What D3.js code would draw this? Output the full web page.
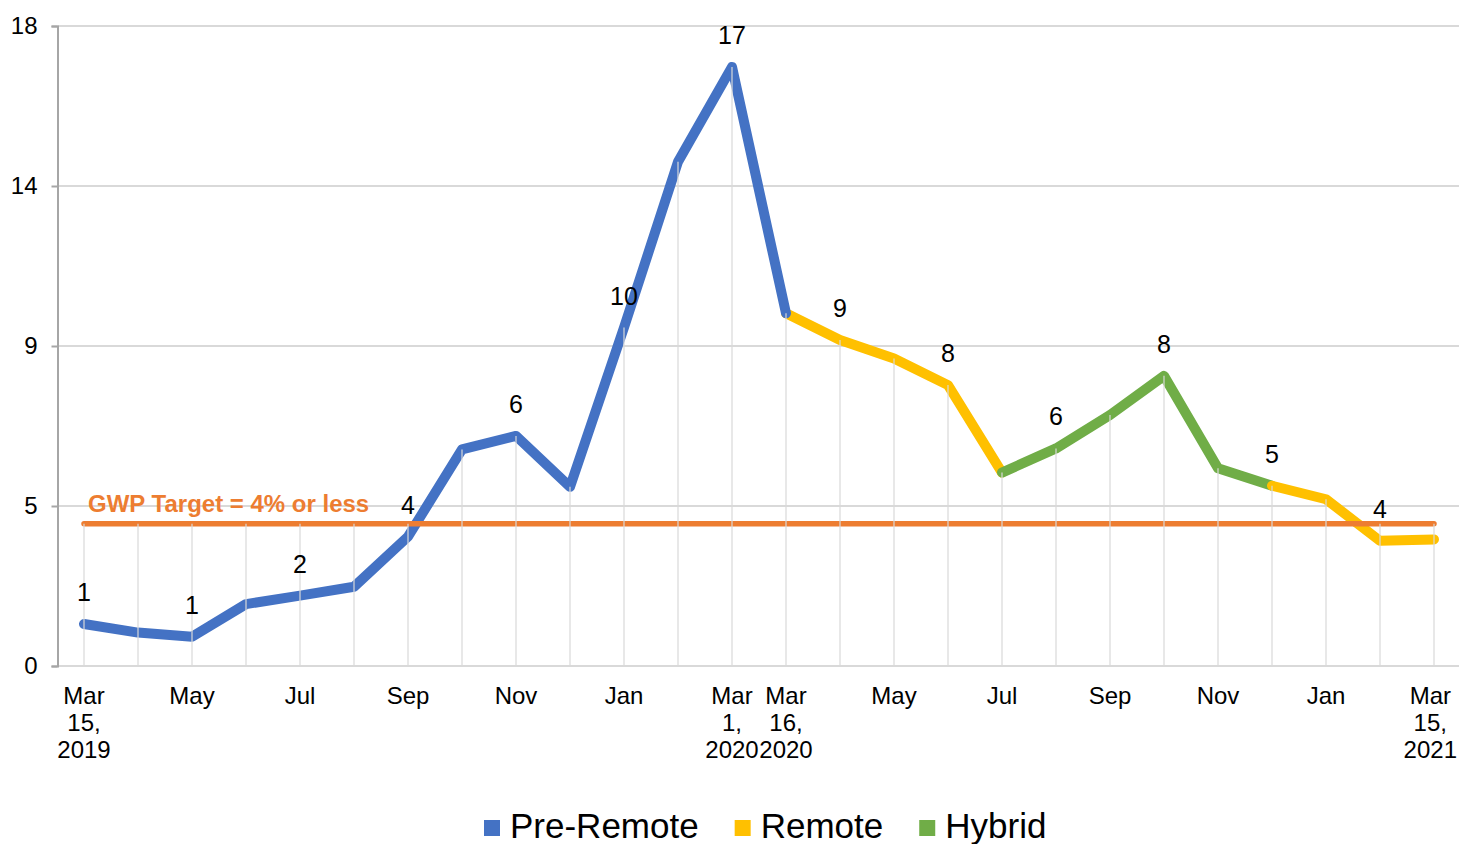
<!DOCTYPE html>
<html>
<head>
<meta charset="utf-8">
<script src="https://cdn.jsdelivr.net/npm/d3@7"></script>
<style>
  html, body { margin: 0; padding: 0; background: #fff; }
  svg { display: block; font-family: "Liberation Sans", Arial, sans-serif; }
</style>
</head>
<body>
<svg id="chart" width="1459" height="844"></svg>
<script>
// ---- data ----
const categories = ["Mar 15, 2019","Apr","May","Jun","Jul","Aug","Sep","Oct","Nov","Dec","Jan","Feb",
  "Mar 1, 2020","Mar 16, 2020","Apr","May","Jun","Jul","Aug","Sep","Oct","Nov","Dec","Jan","Feb","Mar 15, 2021"];
const xTickLabels = ["Mar 15, 2019","","May","","Jul","","Sep","","Nov","","Jan","",
  "Mar 1, 2020","Mar 16, 2020","","May","","Jul","","Sep","","Nov","","Jan","","Mar 15, 2021"];
const preRemote = [1.18,0.94,0.82,1.74,1.98,2.23,3.64,6.09,6.47,5.04,9.52,14.18,16.85,9.92,
  null,null,null,null,null,null,null,null,null,null,null,null];
const remote = [null,null,null,null,null,null,null,null,null,null,null,null,null,9.92,
  9.17,8.65,7.90,5.44,null,null,null,null,5.07,4.69,3.52,3.56];
const hybrid = [null,null,null,null,null,null,null,null,null,null,null,null,null,null,
  null,null,null,5.44,6.12,7.06,8.16,5.56,5.07,null,null,null];
const target = [4,4,4,4,4,4,4,4,4,4,4,4,4,4,4,4,4,4,4,4,4,4,4,4,4,4];
const dataLabelIdx = [0,2,4,6,8,10,12,14,16,18,20,22,24];
const yTickValues = [0, 4.5, 9, 13.5, 18];
const yTickLabels = ["0","5","9","14","18"];
const targetLabel = "GWP Target = 4% or less";
const legendItems = [
  {name: "Pre-Remote", color: "#4472C4"},
  {name: "Remote", color: "#FFC000"},
  {name: "Hybrid", color: "#70AD47"}
];

// ---- chart ----
const W = 1459;
const svg = d3.select("#chart");
const x = d3.scalePoint().domain(d3.range(categories.length)).range([84, 1434]);
const y = d3.scaleLinear().domain([0, 18]).range([666, 26]);
const plotLeft = 57.5, plotRight = W;

// gridlines
svg.append("g").selectAll("line").data(yTickValues).join("line")
  .attr("x1", plotLeft).attr("x2", plotRight)
  .attr("y1", d => y(d)).attr("y2", d => y(d))
  .attr("stroke", "#d9d9d9").attr("stroke-width", 2);

// y axis
const yAxis = d3.axisLeft(y).tickValues(yTickValues)
  .tickFormat((d, i) => yTickLabels[i]).tickSize(6).tickPadding(14);
const ya = svg.append("g").attr("transform", `translate(${plotLeft},0)`).call(yAxis);
ya.select(".domain").attr("stroke", "#a6a6a6").attr("stroke-width", 2);
ya.selectAll(".tick line").attr("stroke", "#a6a6a6").attr("stroke-width", 2);
ya.selectAll(".tick text").attr("font-size", 24).attr("fill", "#000")
  .attr("font-family", "Liberation Sans, Arial, sans-serif");

// x axis labels
const xa = svg.append("g");
xTickLabels.forEach((lab, i) => {
  if (!lab) return;
  const parts = lab.split(" ");
  const t = xa.append("text").attr("x", x(i)).attr("y", 704)
    .attr("text-anchor", "middle").attr("font-size", 24).attr("fill", "#000");
  parts.forEach((p, k) => {
    t.append("tspan").attr("x", x(i)).attr("dy", k === 0 ? 0 : 27).text(p);
  });
  // keep the label inside the picture
  const bb = t.node().getBBox();
  const over = bb.x + bb.width - (W - 2);
  if (over > 0) t.attr("transform", `translate(${-over},0)`);
});

// line helpers
function runs(arr) {
  const out = []; let cur = [];
  arr.forEach((v, i) => {
    if (v == null) { if (cur.length) out.push(cur); cur = []; }
    else cur.push([i, v]);
  });
  if (cur.length) out.push(cur);
  return out;
}
const line = d3.line().x(d => x(d[0])).y(d => y(d[1]));
function drawRun(run, color) {
  svg.append("path").attr("d", line(run)).attr("fill", "none")
    .attr("stroke", color).attr("stroke-width", 10)
    .attr("stroke-linejoin", "round").attr("stroke-linecap", "round");
}
const remoteRuns = runs(remote);
drawRun(remoteRuns[0], legendItems[1].color);
runs(preRemote).forEach(r => drawRun(r, legendItems[0].color));
runs(hybrid).forEach(r => drawRun(r, legendItems[2].color));
remoteRuns.slice(1).forEach(r => drawRun(r, legendItems[1].color));

// target line
svg.append("path").attr("d", line(target.map((v, i) => [i, v])))
  .attr("fill", "none").attr("stroke", "#ED7D31").attr("stroke-width", 5.5)
  .attr("stroke-linecap", "round");

// drop lines
svg.append("g").selectAll("line").data(categories.map((c, i) => i)).join("line")
  .attr("x1", i => x(i)).attr("x2", i => x(i))
  .attr("y1", y(0))
  .attr("y2", i => y(d3.max([preRemote[i], remote[i], hybrid[i], target[i]].filter(v => v != null))))
  .attr("stroke", "#d9d9d9").attr("stroke-width", 1.2);

// target label
svg.append("text").attr("x", 88).attr("y", 512)
  .attr("font-size", 24).attr("font-weight", "bold").attr("fill", "#ED7D31")
  .text(targetLabel);

// data labels
const fmt = d3.format(".0f");
dataLabelIdx.forEach(i => {
  const v = [preRemote[i], remote[i], hybrid[i]].find(v => v != null);
  svg.append("text").attr("x", x(i)).attr("y", y(v) - 23)
    .attr("text-anchor", "middle").attr("font-size", 25).attr("fill", "#000")
    .text(fmt(v));
});

// legend
const lg = svg.append("g");
let lx = 484;
legendItems.forEach(it => {
  lg.append("rect").attr("x", lx).attr("y", 820).attr("width", 16).attr("height", 16).attr("fill", it.color);
  const t = lg.append("text").attr("x", lx + 26).attr("y", 838)
    .attr("font-size", 35).attr("fill", "#000").text(it.name);
  lx += 26 + t.node().getComputedTextLength() + 36;
});
</script>
</body>
</html>
